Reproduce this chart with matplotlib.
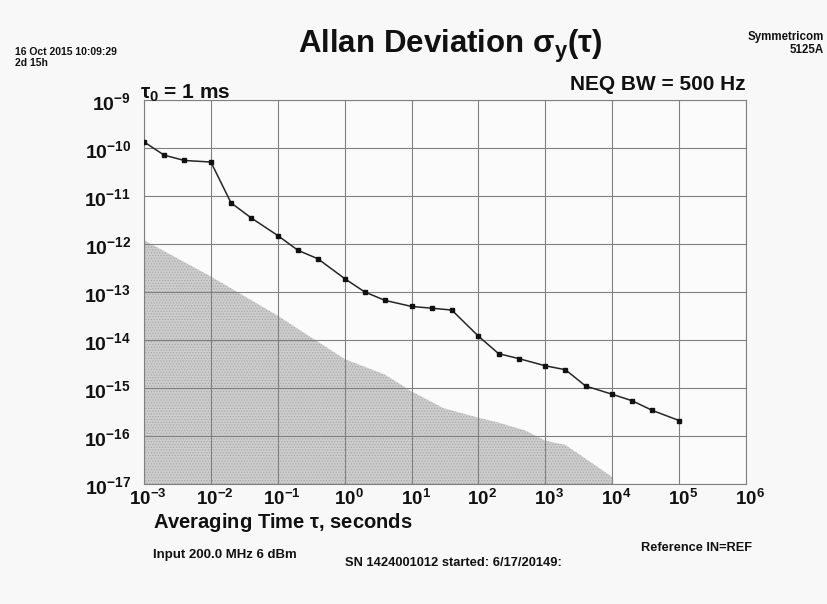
import matplotlib
matplotlib.use("Agg")
import matplotlib.pyplot as plt
from matplotlib import font_manager
from matplotlib.transforms import offset_copy

# ---- data -------------------------------------------------------------
tau = [1e-3, 2e-3, 4e-3, 1e-2, 2e-2, 4e-2, 1e-1, 2e-1, 4e-1,
       1e0, 2e0, 4e0, 1e1, 2e1, 4e1, 1e2, 2e2, 4e2,
       1e3, 2e3, 4e3, 1e4, 2e4, 4e4, 1e5]
adev = [1.34e-10, 7.1e-11, 5.5e-11, 5.1e-11, 7.2e-12, 3.5e-12, 1.5e-12, 7.4e-13, 4.9e-13,
        1.9e-13, 1.0e-13, 6.7e-14, 5.0e-14, 4.6e-14, 4.2e-14, 1.2e-14, 5.2e-15, 4.1e-15,
        2.9e-15, 2.4e-15, 1.1e-15, 7.4e-16, 5.4e-16, 3.4e-16, 2.1e-16]

# instrument noise floor (shaded area)
tau_floor = [1e-3, 1e-2, 1e-1, 1e0, 4e0, 1e1, 3e1, 1e2, 2e2, 5e2, 1e3, 2e3, 1e4]
floor = [1.2e-12, 2.1e-13, 3.2e-14, 4.0e-15, 1.9e-15, 8.5e-16, 3.8e-16, 2.4e-16,
         1.9e-16, 1.3e-16, 8.0e-17, 6.5e-17, 1.4e-17]

x_exp = [-3, -2, -1, 0, 1, 2, 3, 4, 5, 6]
y_exp = [-9, -10, -11, -12, -13, -14, -15, -16, -17]

# ---- fonts -------------------------------------------------------------
names = {f.name for f in font_manager.fontManager.ttflist}
FAMILY = "Liberation Sans Narrow" if "Liberation Sans Narrow" in names else "Liberation Sans"
plt.rcParams["font.family"] = [FAMILY, "DejaVu Sans"]
plt.rcParams["mathtext.fontset"] = "custom"
plt.rcParams["mathtext.rm"] = FAMILY + ":bold"
plt.rcParams["mathtext.bf"] = FAMILY + ":bold"
plt.rcParams["mathtext.it"] = "DejaVu Serif:italic"
plt.rcParams["mathtext.default"] = "bf"
plt.rcParams["hatch.linewidth"] = 0.6

W, H = 827, 604
fig = plt.figure(figsize=(W / 100, H / 100), dpi=100, facecolor="#f8f8f8")


def fx(px):
    return px / W


def fy(py):
    return 1 - py / H


L, R, T, B = 144, 746, 100, 484
ax = fig.add_axes([fx(L), fy(B), fx(R) - fx(L), fy(T) - fy(B)])
ax.set_facecolor("#fbfbfb")
ax.set_xscale("log")
ax.set_yscale("log")
ax.set_xlim(10.0 ** x_exp[0], 10.0 ** x_exp[-1])
ax.set_ylim(10.0 ** y_exp[-1], 10.0 ** y_exp[0])

ax.fill_between(tau_floor, floor, 10.0 ** y_exp[-1], facecolor="#cdcdcd",
                edgecolor="#a9a9a9", hatch="......", linewidth=0, zorder=1)
ax.plot(tau, adev, color="#262626", lw=1.1, marker="s", ms=2.6,
        mfc="#111111", mec="#111111", zorder=3)

ax.set_xticks([10.0 ** e for e in x_exp])
ax.set_yticks([10.0 ** e for e in y_exp])
ax.minorticks_off()
ax.tick_params(length=0, labelleft=False, labelbottom=False)
ax.grid(True, color="#808080", lw=0.8, zorder=2)
ax.set_axisbelow(False)
for s in ax.spines.values():
    s.set_color("#808080")
    s.set_linewidth(0.8)

ytr = offset_copy(ax.get_yaxis_transform(), fig=fig, x=-13, y=-3, units="dots")
for e in y_exp:
    ax.text(0, 10.0 ** e, f"$10^{{{e}}}$", transform=ytr,
            ha="right", va="center", fontsize=14, color="#111111")
xtr = offset_copy(ax.get_xaxis_transform(), fig=fig, x=4, y=-5, units="dots")
for e in x_exp:
    ax.text(10.0 ** e, 0, f"$10^{{{e}}}$", transform=xtr,
            ha="center", va="top", fontsize=13.5, color="#111111")

# ---- page annotations --------------------------------------------------
bold = dict(fontweight="bold", color="#111111")
fig.text(fx(450), fy(46), r"Allan Deviation $\mathregular{\sigma_y(\tau)}$",
         ha="center", va="center", fontsize=22.5, **bold)
fig.text(fx(15), fy(52), "16 Oct 2015 10:09:29", ha="left", va="center", fontsize=7.5, **bold)
fig.text(fx(15), fy(63), "2d 15h", ha="left", va="center", fontsize=7.5, **bold)
fig.text(fx(824), fy(37), "Symmetricom", ha="right", va="center", fontsize=8.3, **bold)
fig.text(fx(824), fy(50), "5125A", ha="right", va="center", fontsize=8.3, **bold)
fig.text(fx(746), fy(84), "NEQ BW = 500 Hz", ha="right", va="center", fontsize=15, **bold)
fig.text(fx(140), fy(93), r"$\mathregular{\tau_0}$ = 1 ms", ha="left", va="center",
         fontsize=15, **bold)
fig.text(fx(153), fy(522), r"Averaging Time $\mathregular{\tau}$, seconds", ha="left",
         va="center", fontsize=14.5, **bold)
fig.text(fx(153), fy(555), "Input 200.0 MHz 6 dBm", ha="left", va="center", fontsize=9.5, **bold)
fig.text(fx(345), fy(563), "SN 1424001012 started: 6/17/20149:", ha="left", va="center",
         fontsize=9.3, **bold)
fig.text(fx(641), fy(548), "Reference IN=REF", ha="left", va="center", fontsize=9.2, **bold)

fig.savefig("out.png", dpi=100, facecolor=fig.get_facecolor())
